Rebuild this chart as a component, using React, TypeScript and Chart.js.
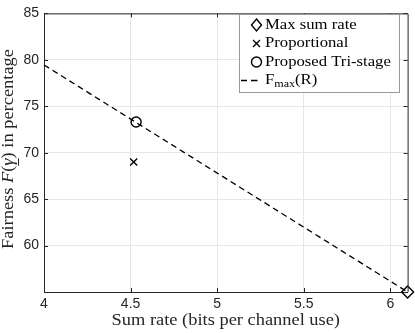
import React, { useEffect, useRef } from "react";
import { Chart, registerables } from "chart.js";

Chart.register(...registerables);

const xTicks = [4, 4.5, 5, 5.5, 6];
const yTicks = [60, 65, 70, 75, 80, 85];
const maxSumRate = [{ x: 6.1, y: 55.0 }];
const proportional = [{ x: 4.518, y: 69.0 }];
const triStage = [{ x: 4.532, y: 73.3 }];
const fmaxLine = [
  { x: 4, y: 79.45 },
  { x: 6.1, y: 55.0 },
];
const seriesLabels = ["Max sum rate", "Proportional", "Proposed Tri-stage", "F_max(R)"];
const xTitle = "Sum rate (bits per channel use)";
const yTitleParts = ["Fairness ", "F", "(", "γ", ") in percentage"];

const SERIF = '"Liberation Serif", "DejaVu Serif", serif';
const SANS = '"Liberation Sans", Arial, sans-serif';
const INK = "#262626";
const STRETCH = 1.15;

function stretchText(ctx: CanvasRenderingContext2D, text: string, x: number, y: number, font: string) {
  ctx.save();
  ctx.font = font;
  ctx.translate(x, y);
  ctx.scale(STRETCH, 1);
  ctx.textAlign = "left";
  ctx.fillText(text, 0, 0);
  ctx.restore();
}
function stretchWidth(ctx: CanvasRenderingContext2D, text: string, font: string) {
  ctx.save();
  ctx.font = font;
  const w = ctx.measureText(text).width * STRETCH;
  ctx.restore();
  return w;
}

const decorPlugin = {
  id: "decor",
  afterDraw(chart: any) {
    const { ctx, chartArea: a } = chart;
    const xs = chart.scales.x;
    const ys = chart.scales.y;
    ctx.save();
    // box
    ctx.strokeStyle = INK;
    ctx.lineWidth = 1;
    ctx.beginPath();
    ctx.moveTo(a.left, a.top + 0.5);
    ctx.lineTo(a.right + 0.5, a.top + 0.5);
    ctx.lineTo(a.right + 0.5, a.bottom);
    ctx.stroke();
    // inward ticks
    ctx.beginPath();
    xTicks.forEach((v) => {
      const px = Math.round(xs.getPixelForValue(v)) + 0.5;
      ctx.moveTo(px, a.bottom);
      ctx.lineTo(px, a.bottom - 4);
      ctx.moveTo(px, a.top);
      ctx.lineTo(px, a.top + 4);
    });
    yTicks.forEach((v) => {
      const py = Math.round(ys.getPixelForValue(v)) + 0.5;
      ctx.moveTo(a.left, py);
      ctx.lineTo(a.left + 4, py);
      ctx.moveTo(a.right, py);
      ctx.lineTo(a.right - 4, py);
    });
    ctx.stroke();

    // legend
    const lx = 239.5, ly = 14.5, lw = 160, lh = 78;
    ctx.fillStyle = "#ffffff";
    ctx.fillRect(lx, ly, lw, lh);
    ctx.strokeStyle = "#9a9a9a";
    ctx.strokeRect(lx, ly, lw, lh);
    const rows = [25, 43.5, 62, 80.5];
    const sx = 256.5;
    ctx.strokeStyle = "#000";
    ctx.lineWidth = 1.4;
    // diamond
    ctx.beginPath();
    ctx.moveTo(sx, rows[0] - 6);
    ctx.lineTo(sx + 5, rows[0]);
    ctx.lineTo(sx, rows[0] + 6);
    ctx.lineTo(sx - 5, rows[0]);
    ctx.closePath();
    ctx.stroke();
    // cross
    ctx.beginPath();
    ctx.moveTo(sx - 3.5, rows[1] - 3.5);
    ctx.lineTo(sx + 3.5, rows[1] + 3.5);
    ctx.moveTo(sx + 3.5, rows[1] - 3.5);
    ctx.lineTo(sx - 3.5, rows[1] + 3.5);
    ctx.stroke();
    // circle
    ctx.beginPath();
    ctx.arc(sx, rows[2], 5, 0, Math.PI * 2);
    ctx.stroke();
    // dash
    ctx.beginPath();
    ctx.lineWidth = 1.3;
    ctx.moveTo(241, rows[3]);
    ctx.lineTo(247, rows[3]);
    ctx.moveTo(251, rows[3]);
    ctx.lineTo(257.5, rows[3]);
    ctx.stroke();

    ctx.fillStyle = "#000";
    ctx.textBaseline = "middle";
    const lf = `14.5px ${SERIF}`;
    const sf = `10.5px ${SERIF}`;
    const tx = 265;
    stretchText(ctx, seriesLabels[0], tx, rows[0], lf);
    stretchText(ctx, seriesLabels[1], tx, rows[1], lf);
    stretchText(ctx, seriesLabels[2], tx, rows[2], lf);
    // F_max(R)
    stretchText(ctx, "F", tx, rows[3], lf);
    let cx = tx + stretchWidth(ctx, "F", lf);
    stretchText(ctx, "max", cx, rows[3] + 4, sf);
    cx += stretchWidth(ctx, "max", sf);
    stretchText(ctx, "(R)", cx, rows[3], lf);

    // x title
    ctx.fillStyle = INK;
    const xf = `16px ${SERIF}`;
    const xw = stretchWidth(ctx, xTitle, xf);
    stretchText(ctx, xTitle, (a.left + a.right) / 2 - xw / 2, 321, xf);

    // y title
    ctx.save();
    ctx.translate(9, 149);
    ctx.rotate(-Math.PI / 2);
    const fonts = [
      `16px ${SERIF}`,
      `italic 16px ${SERIF}`,
      `16px ${SERIF}`,
      `italic 16px ${SERIF}`,
      `16px ${SERIF}`,
    ];
    let total = 0;
    const widths = yTitleParts.map((p, i) => {
      const w = stretchWidth(ctx, p, fonts[i]);
      total += w;
      return w;
    });
    let px = -total / 2;
    yTitleParts.forEach((p, i) => {
      stretchText(ctx, p, px, 0, fonts[i]);
      if (i === 3) {
        ctx.strokeStyle = INK;
        ctx.lineWidth = 1;
        ctx.beginPath();
        ctx.moveTo(px, 9.5);
        ctx.lineTo(px + widths[i], 9.5);
        ctx.stroke();
      }
      px += widths[i];
    });
    ctx.restore();
    ctx.restore();
  },
};

export default function App() {
  const ref = useRef<HTMLCanvasElement | null>(null);
  useEffect(() => {
    if (!ref.current) return;
    const chart = new Chart(ref.current, {
      type: "scatter",
      data: {
        datasets: [
          {
            label: seriesLabels[3],
            data: fmaxLine,
            showLine: true,
            borderColor: "#000",
            borderWidth: 1.3,
            borderDash: [6, 4],
            pointRadius: 0,
            fill: false,
            clip: false,
          } as any,
          {
            label: seriesLabels[0],
            data: maxSumRate,
            pointStyle: "rectRot",
            pointRadius: 6,
            borderColor: "#000",
            backgroundColor: "rgba(0,0,0,0)",
            pointBorderWidth: 1.4,
            clip: false,
          } as any,
          {
            label: seriesLabels[1],
            data: proportional,
            pointStyle: "crossRot",
            pointRadius: 5,
            borderColor: "#000",
            pointBorderWidth: 1.4,
            clip: false,
          } as any,
          {
            label: seriesLabels[2],
            data: triStage,
            pointStyle: "circle",
            pointRadius: 5,
            borderColor: "#000",
            backgroundColor: "rgba(0,0,0,0)",
            pointBorderWidth: 1.4,
            clip: false,
          } as any,
        ],
      },
      options: {
        animation: false,
        responsive: false,
        maintainAspectRatio: false,
        layout: { padding: { top: 7, right: 5, left: 0, bottom: 0 } },
        plugins: { legend: { display: false }, tooltip: { enabled: false } },
        scales: {
          x: {
            type: "linear",
            min: 4,
            max: 6.1,
            afterBuildTicks: (s: any) => {
              s.ticks = xTicks.map((v) => ({ value: v }));
            },
            afterFit: (s: any) => {
              s.height = 41;
            },
            grid: { color: "#e6e6e6", drawTicks: false },
            border: { color: INK, width: 1 },
            ticks: {
              color: INK,
              font: { family: SANS, size: 14 },
              padding: 4,
              maxRotation: 0,
              callback: (v: any) => String(v),
            },
          },
          y: {
            type: "linear",
            min: 55,
            max: 85,
            afterBuildTicks: (s: any) => {
              s.ticks = [55, ...yTicks].map((v) => ({ value: v }));
            },
            afterFit: (s: any) => {
              s.width = 44;
            },
            grid: { color: "#e6e6e6", drawTicks: false },
            border: { color: INK, width: 1 },
            ticks: {
              color: INK,
              font: { family: SANS, size: 14 },
              padding: 5,
              callback: (v: any) => (v === 55 ? "" : String(v)),
            },
          },
        },
      },
      plugins: [decorPlugin],
    });
    return () => chart.destroy();
  }, []);
  return (
    <div style={{ position: "fixed", left: 0, top: 0, width: 415, height: 333, background: "#fff" }}>
      <canvas ref={ref} width={415} height={333} style={{ width: 415, height: 333 }} />
    </div>
  );
}
